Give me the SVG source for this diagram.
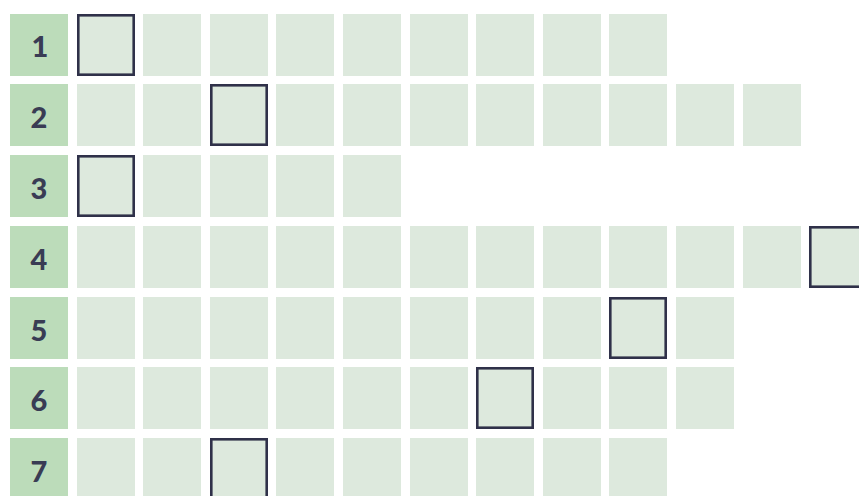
<svg xmlns="http://www.w3.org/2000/svg" width="859" height="496" viewBox="0 0 859 496">
<style>
.lab{fill:#bcdcba}
.c{fill:#dde9dd}
.box{fill:none;stroke:#2f3149;stroke-width:2.6}
.num{font-family:Lato,"Open Sans","Liberation Sans",sans-serif;font-weight:900;font-size:29px;fill:#393c54;text-anchor:middle}
</style>
<defs>
<rect id="cell" class="c" width="58" height="62"/>
</defs>
<rect width="859" height="496" fill="#ffffff"/>
<g id="row1">
<rect class="lab" x="10" y="14" width="58" height="62"/>
<text class="num" x="40" y="57">1</text>
<use href="#cell" x="77" y="14"/><use href="#cell" x="143" y="14"/><use href="#cell" x="210" y="14"/><use href="#cell" x="276" y="14"/><use href="#cell" x="343" y="14"/><use href="#cell" x="410" y="14"/><use href="#cell" x="476" y="14"/><use href="#cell" x="543" y="14"/><use href="#cell" x="609" y="14"/>
<rect class="box" x="78.3" y="15.3" width="55.4" height="59.4"/>
</g>
<g id="row2">
<rect class="lab" x="10" y="84" width="58" height="62"/>
<text class="num" x="39" y="128">2</text>
<use href="#cell" x="77" y="84"/><use href="#cell" x="143" y="84"/><use href="#cell" x="210" y="84"/><use href="#cell" x="276" y="84"/><use href="#cell" x="343" y="84"/><use href="#cell" x="410" y="84"/><use href="#cell" x="476" y="84"/><use href="#cell" x="543" y="84"/><use href="#cell" x="609" y="84"/><use href="#cell" x="676" y="84"/><use href="#cell" x="743" y="84"/>
<rect class="box" x="211.3" y="85.3" width="55.4" height="59.4"/>
</g>
<g id="row3">
<rect class="lab" x="10" y="155" width="58" height="62"/>
<text class="num" x="39" y="199">3</text>
<use href="#cell" x="77" y="155"/><use href="#cell" x="143" y="155"/><use href="#cell" x="210" y="155"/><use href="#cell" x="276" y="155"/><use href="#cell" x="343" y="155"/>
<rect class="box" x="78.3" y="156.3" width="55.4" height="59.4"/>
</g>
<g id="row4">
<rect class="lab" x="10" y="226" width="58" height="62"/>
<text class="num" x="39" y="270">4</text>
<use href="#cell" x="77" y="226"/><use href="#cell" x="143" y="226"/><use href="#cell" x="210" y="226"/><use href="#cell" x="276" y="226"/><use href="#cell" x="343" y="226"/><use href="#cell" x="410" y="226"/><use href="#cell" x="476" y="226"/><use href="#cell" x="543" y="226"/><use href="#cell" x="609" y="226"/><use href="#cell" x="676" y="226"/><use href="#cell" x="743" y="226"/><use href="#cell" x="809" y="226"/>
<rect class="box" x="810.3" y="227.3" width="55.4" height="59.4"/>
</g>
<g id="row5">
<rect class="lab" x="10" y="297" width="58" height="62"/>
<text class="num" x="39" y="341">5</text>
<use href="#cell" x="77" y="297"/><use href="#cell" x="143" y="297"/><use href="#cell" x="210" y="297"/><use href="#cell" x="276" y="297"/><use href="#cell" x="343" y="297"/><use href="#cell" x="410" y="297"/><use href="#cell" x="476" y="297"/><use href="#cell" x="543" y="297"/><use href="#cell" x="609" y="297"/><use href="#cell" x="676" y="297"/>
<rect class="box" x="610.3" y="298.3" width="55.4" height="59.4"/>
</g>
<g id="row6">
<rect class="lab" x="10" y="367" width="58" height="62"/>
<text class="num" x="39" y="411">6</text>
<use href="#cell" x="77" y="367"/><use href="#cell" x="143" y="367"/><use href="#cell" x="210" y="367"/><use href="#cell" x="276" y="367"/><use href="#cell" x="343" y="367"/><use href="#cell" x="410" y="367"/><use href="#cell" x="476" y="367"/><use href="#cell" x="543" y="367"/><use href="#cell" x="609" y="367"/><use href="#cell" x="676" y="367"/>
<rect class="box" x="477.3" y="368.3" width="55.4" height="59.4"/>
</g>
<g id="row7">
<rect class="lab" x="10" y="438" width="58" height="62"/>
<text class="num" x="39" y="482">7</text>
<use href="#cell" x="77" y="438"/><use href="#cell" x="143" y="438"/><use href="#cell" x="210" y="438"/><use href="#cell" x="276" y="438"/><use href="#cell" x="343" y="438"/><use href="#cell" x="410" y="438"/><use href="#cell" x="476" y="438"/><use href="#cell" x="543" y="438"/><use href="#cell" x="609" y="438"/>
<rect class="box" x="211.3" y="439.3" width="55.4" height="59.4"/>
</g>
<g id="connectors"></g>
</svg>
